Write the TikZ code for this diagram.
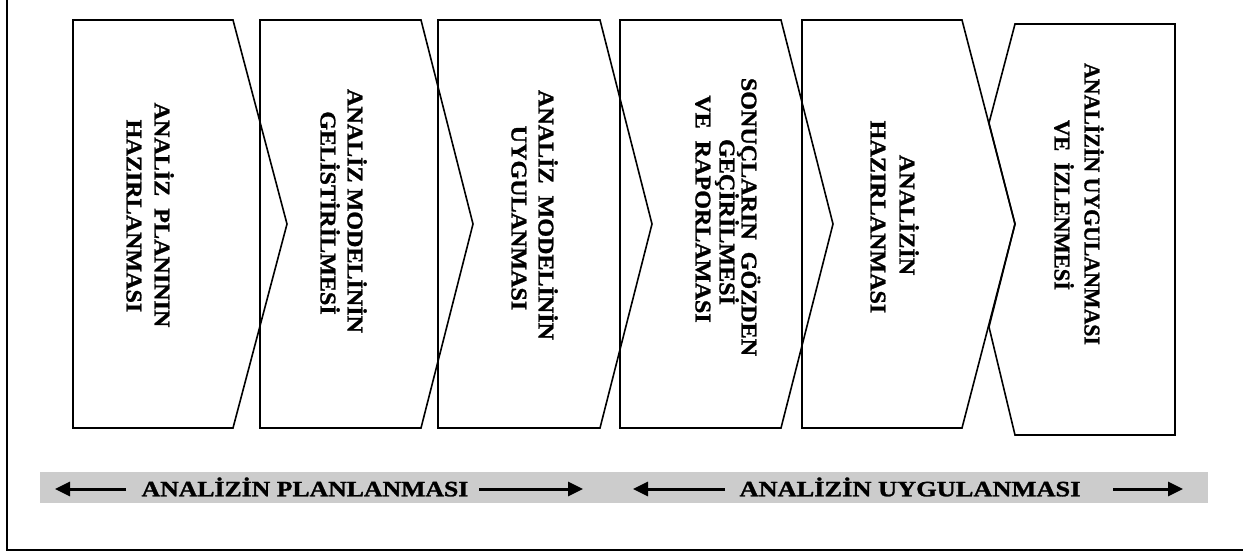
\documentclass[tikz,border=0pt]{standalone}
\usepackage{fontspec}
\setmainfont{Liberation Serif}[BoldFeatures={FakeBold=1.2}]
\usepackage{graphicx}
\usetikzlibrary{arrows.meta}
\definecolor{barg}{HTML}{CCCCCC}
\newcommand\wtxt[2][1.07]{\scalebox{#1}[1]{#2}}
\begin{document}
\begin{tikzpicture}[x=1pt,y=-1pt,
  box/.style={line width=1.6pt, line join=miter},
  lbl/.style={rotate=-90, inner sep=0pt, text height=14.9pt, text depth=0pt,
    font=\bfseries\fontsize{22.5}{26}\selectfont},
  bartxt/.style={inner sep=0pt, text height=14.6pt, text depth=0pt,
    font=\bfseries\fontsize{22}{26}\selectfont},
  bararrow/.style={line width=3pt, -{Triangle[length=15pt,width=14pt]}},
  framestyle/.style={line width=1.6pt}]
\useasboundingbox (0,0) rectangle (1243,552);

% outer frame (left and bottom edges)
\coordinate (ftop) at (7,0);
\coordinate (fcorner) at (7,550);
\coordinate (fright) at (1243,550);
\draw[framestyle] (ftop) -- (fcorner) -- (fright);

% chevrons
\draw[box] (73,20) -- (233,20) -- (287,224) -- (233,428) -- (73,428) -- cycle;
\draw[box] (260,20) -- (421,20) -- (473,224) -- (421,428) -- (260,428) -- cycle;
\draw[box] (438,20) -- (600,20) -- (652,224) -- (600,428) -- (438,428) -- cycle;
\draw[box] (620,20) -- (781,20) -- (833,224) -- (781,428) -- (620,428) -- cycle;
\draw[box] (802,20) -- (962,20) -- (1015,224) -- (962,428) -- (802,428) -- cycle;
\draw[box] (1015,24) -- (989,123) -- (1015,224) -- (989,327) -- (1015,435) -- (1175,435) -- (1175,24) -- cycle;

% texts
\node[lbl] (s1a) at (162,215) {\wtxt{ANALİZ\ \ PLANININ}};
\node[lbl] (s1b) at (134,216) {\wtxt{HAZIRLANMASI}};
\node[lbl] (s2a) at (355,211) {\wtxt{ANALİZ MODELİNİN}};
\node[lbl] (s2b) at (328,213) {\wtxt{GELİSTİRİLMESİ}};
\node[lbl] (s3a) at (546,215) {\wtxt{ANALİZ\ \ MODELİNİN}};
\node[lbl] (s3b) at (519,218) {\wtxt{UYGULANMASI}};
\node[lbl] (s4a) at (749,217) {\wtxt{SONUÇLARIN\ \ GÖZDEN}};
\node[lbl] (s4b) at (727,222) {\wtxt{GEÇİRİLMESİ}};
\node[lbl] (s4c) at (703,209) {\wtxt{VE\ \ RAPORLAMASI}};
\node[lbl] (s5a) at (907,215) {\wtxt{ANALİZİN}};
\node[lbl] (s5b) at (878,217) {\wtxt{HAZIRLANMASI}};
\node[lbl] (s6a) at (1092,204) {\wtxt[0.97]{ANALİZİN\ UYGULANMASI}};
\node[lbl] (s6b) at (1062,205) {\wtxt[1.0]{VE\ \ İZLENMESİ}};

% bottom bar
\fill[barg] (40,472) rectangle (1208,503);
\node[bartxt] (p1) at (305,489) {\wtxt[1.17]{ANALİZİN PLANLANMASI}};
\node[bartxt] (p2) at (910,489) {\wtxt[1.2]{ANALİZİN UYGULANMASI}};

\coordinate (a1s) at (126,489); \coordinate (a1e) at (55,489);
\coordinate (a2s) at (479,489); \coordinate (a2e) at (583,489);
\coordinate (a3s) at (725,489); \coordinate (a3e) at (633,489);
\coordinate (a4s) at (1113,489); \coordinate (a4e) at (1183,489);
\draw[bararrow] (a1s) -- (a1e);
\draw[bararrow] (a2s) -- (a2e);
\draw[bararrow] (a3s) -- (a3e);
\draw[bararrow] (a4s) -- (a4e);
\end{tikzpicture}
\end{document}
